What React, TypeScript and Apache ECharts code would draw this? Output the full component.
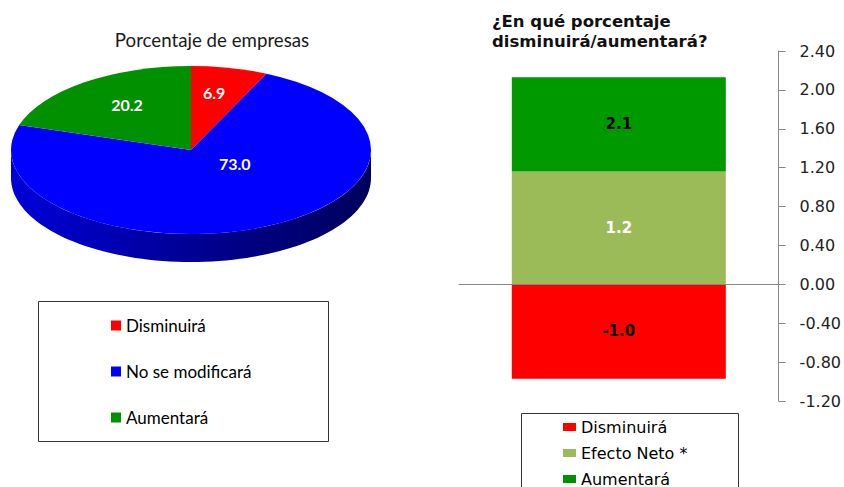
import React, { useEffect, useRef } from 'react';
import * as echarts from 'echarts';

// ---- Data ----
const pieTitle = 'Porcentaje de empresas';
const pieCategories = ['Disminuirá', 'No se modificará', 'Aumentará'];
const pieValues = [6.9, 73.0, 20.2];

const barTitle = '¿En qué porcentaje\ndisminuirá/aumentará?';
const barCategories = ['Disminuirá', 'Efecto Neto *', 'Aumentará'];
const disminuiraValue = -0.97;
const aumentaraValue = 2.13;
const efectoNetoValue = aumentaraValue + disminuiraValue;
const yMin = -1.2;
const yMax = 2.4;
const yInterval = 0.4;

// ---- Styles ----
const pieColors = ['#FF0000', '#0000FF', '#009000'];
const barColors = ['#FF0000', '#9BBB59', '#009900'];
const PIE = { cx: 191, cy: 150, rx: 180, ry: 84, depth: 28 };

function shade(hex: string, f: number) {
  const n = parseInt(hex.slice(1), 16);
  const r = Math.round(((n >> 16) & 255) * f);
  const g = Math.round(((n >> 8) & 255) * f);
  const b = Math.round((n & 255) * f);
  return `rgb(${r},${g},${b})`;
}

function makeSliceRenderer(i: number) {
  return (_params: any, api: any) => {
    const total = pieValues.reduce((a, b) => a + b, 0);
    const before = pieValues.slice(0, i).reduce((a, b) => a + b, 0);
    const v = api.value(0);
    const t0 = (before / total) * Math.PI * 2;
    const t1 = ((before + v) / total) * Math.PI * 2;
    const { cx, cy, rx, ry, depth } = PIE;
    const color = pieColors[i];
    const children: any[] = [];
    const a = Math.max(t0, Math.PI / 2);
    const b = Math.min(t1, (Math.PI * 3) / 2);
    if (b > a) {
      const pts: number[][] = [];
      const n = 80;
      for (let k = 0; k <= n; k++) {
        const t = a + ((b - a) * k) / n;
        pts.push([cx + rx * Math.sin(t), cy - ry * Math.cos(t)]);
      }
      for (let k = n; k >= 0; k--) {
        const t = a + ((b - a) * k) / n;
        pts.push([cx + rx * Math.sin(t), cy - ry * Math.cos(t) + depth]);
      }
      children.push({
        type: 'polygon',
        shape: { points: pts },
        style: {
          fill: {
            type: 'linear',
            x: cx - rx,
            y: 0,
            x2: cx + rx,
            y2: 0,
            global: true,
            colorStops: [
              { offset: 0, color: shade(color, 0.85) },
              { offset: 0.5, color: shade(color, 0.58) },
              { offset: 1, color: shade(color, 0.36) },
            ],
          },
        },
      });
    }
    children.push({
      type: 'group',
      x: cx,
      y: cy,
      scaleY: ry / rx,
      children: [
        {
          type: 'sector',
          shape: {
            cx: 0,
            cy: 0,
            r: rx,
            r0: 0,
            startAngle: t0 - Math.PI / 2,
            endAngle: t1 - Math.PI / 2,
            clockwise: true,
          },
          style: { fill: color },
        },
      ],
    });
    const tm = (t0 + t1) / 2;
    const half = (t1 - t0) / 2;
    const centroid = (2 * Math.sin(half)) / (3 * half);
    children.push({
      type: 'text',
      x: cx + 0.6 * rx * Math.sin(tm),
      y: cy - 3 - centroid * ry * Math.cos(tm),
      z2: 100,
      style: {
        text: v.toFixed(1),
        fill: '#FFFFFF',
        font: 'bold 16px Lato',
        align: 'center',
        verticalAlign: 'middle',
      },
    });
    return { type: 'group', children };
  };
}

export default function App() {
  const ref = useRef<HTMLDivElement>(null);
  useEffect(() => {
    if (!ref.current) return;
    const chart = echarts.init(ref.current, null, { renderer: 'svg' });
    const pieSeries = pieCategories.map((name, i) => ({
      type: 'custom',
      name,
      coordinateSystem: 'none',
      itemStyle: { color: pieColors[i] },
      data: [[pieValues[i]]],
      renderItem: makeSliceRenderer(i),
      silent: true,
    }));
    const labelFont = { fontFamily: 'DejaVu Sans', fontWeight: 'bold', fontSize: 15 };
    const option: any = {
      animation: false,
      backgroundColor: '#FFFFFF',
      title: [
        {
          text: pieTitle,
          left: 207,
          top: 25,
          textAlign: 'center',
          textStyle: { fontFamily: 'Lato', fontWeight: 'normal', fontSize: 18.7, color: '#1a1a1a' },
        },
        {
          text: barTitle,
          left: 487,
          top: 6,
          textStyle: {
            fontFamily: 'DejaVu Sans',
            fontWeight: 'bold',
            fontSize: 16.5,
            lineHeight: 20,
            color: '#111',
          },
        },
      ],
      legend: [
        {
          data: pieCategories,
          orient: 'vertical',
          left: 111,
          top: 317,
          padding: 0,
          itemWidth: 10,
          itemHeight: 10,
          itemGap: 29,
          icon: 'rect',
          selectedMode: false,
          textStyle: { fontFamily: 'Lato', fontSize: 17, color: '#000' },
        },
        {
          data: barCategories,
          orient: 'vertical',
          left: 563,
          top: 419,
          padding: 0,
          itemWidth: 13,
          itemHeight: 8,
          itemGap: 10,
          icon: 'rect',
          selectedMode: false,
          textStyle: { fontFamily: 'DejaVu Sans', fontSize: 16, color: '#000' },
        },
      ],
      graphic: [
        {
          type: 'rect',
          shape: { x: 38.5, y: 301.5, width: 290, height: 140 },
          style: { fill: 'none', stroke: '#333', lineWidth: 1 },
        },
        {
          type: 'rect',
          shape: { x: 521.5, y: 413.5, width: 217, height: 100 },
          style: { fill: 'none', stroke: '#333', lineWidth: 1 },
        },
      ],
      grid: { left: 459, right: 64, top: 51, bottom: 86 },
      xAxis: {
        type: 'category',
        data: [''],
        z: 10,
        axisLine: { show: true, onZero: true, lineStyle: { color: '#888', width: 1 } },
        axisTick: { show: false },
        axisLabel: { show: false },
        splitLine: { show: false },
      },
      yAxis: {
        type: 'value',
        position: 'right',
        min: yMin,
        max: yMax,
        interval: yInterval,
        axisLine: { show: true, onZero: false, lineStyle: { color: '#888', width: 1 } },
        axisTick: { show: true, inside: false, length: 7, lineStyle: { color: '#888' } },
        splitLine: { show: false },
        axisLabel: {
          margin: 21,
          fontFamily: 'DejaVu Sans',
          fontSize: 16,
          color: '#222',
          formatter: (v: number) => v.toFixed(2),
        },
      },
      series: [
        ...pieSeries,
        {
          type: 'bar',
          name: barCategories[0],
          stack: 'total',
          barWidth: 214,
          itemStyle: { color: barColors[0] },
          data: [disminuiraValue],
          label: {
            show: true,
            position: 'inside',
            color: '#000',
            ...labelFont,
            formatter: () => disminuiraValue.toFixed(1),
          },
        },
        {
          type: 'bar',
          name: barCategories[1],
          stack: 'total',
          barWidth: 214,
          itemStyle: { color: barColors[1] },
          data: [efectoNetoValue],
          label: {
            show: true,
            position: 'inside',
            color: '#FFF',
            ...labelFont,
            formatter: () => efectoNetoValue.toFixed(1),
          },
        },
        {
          type: 'bar',
          name: barCategories[2],
          stack: 'total',
          barWidth: 214,
          itemStyle: { color: barColors[2] },
          data: [aumentaraValue - efectoNetoValue],
          label: {
            show: true,
            position: 'inside',
            color: '#000',
            ...labelFont,
            formatter: () => aumentaraValue.toFixed(1),
          },
        },
      ],
    };
    chart.setOption(option);
    return () => chart.dispose();
  }, []);
  return (
    <div
      ref={ref}
      style={{ position: 'fixed', left: 0, top: 0, width: 844, height: 487 }}
    />
  );
}
